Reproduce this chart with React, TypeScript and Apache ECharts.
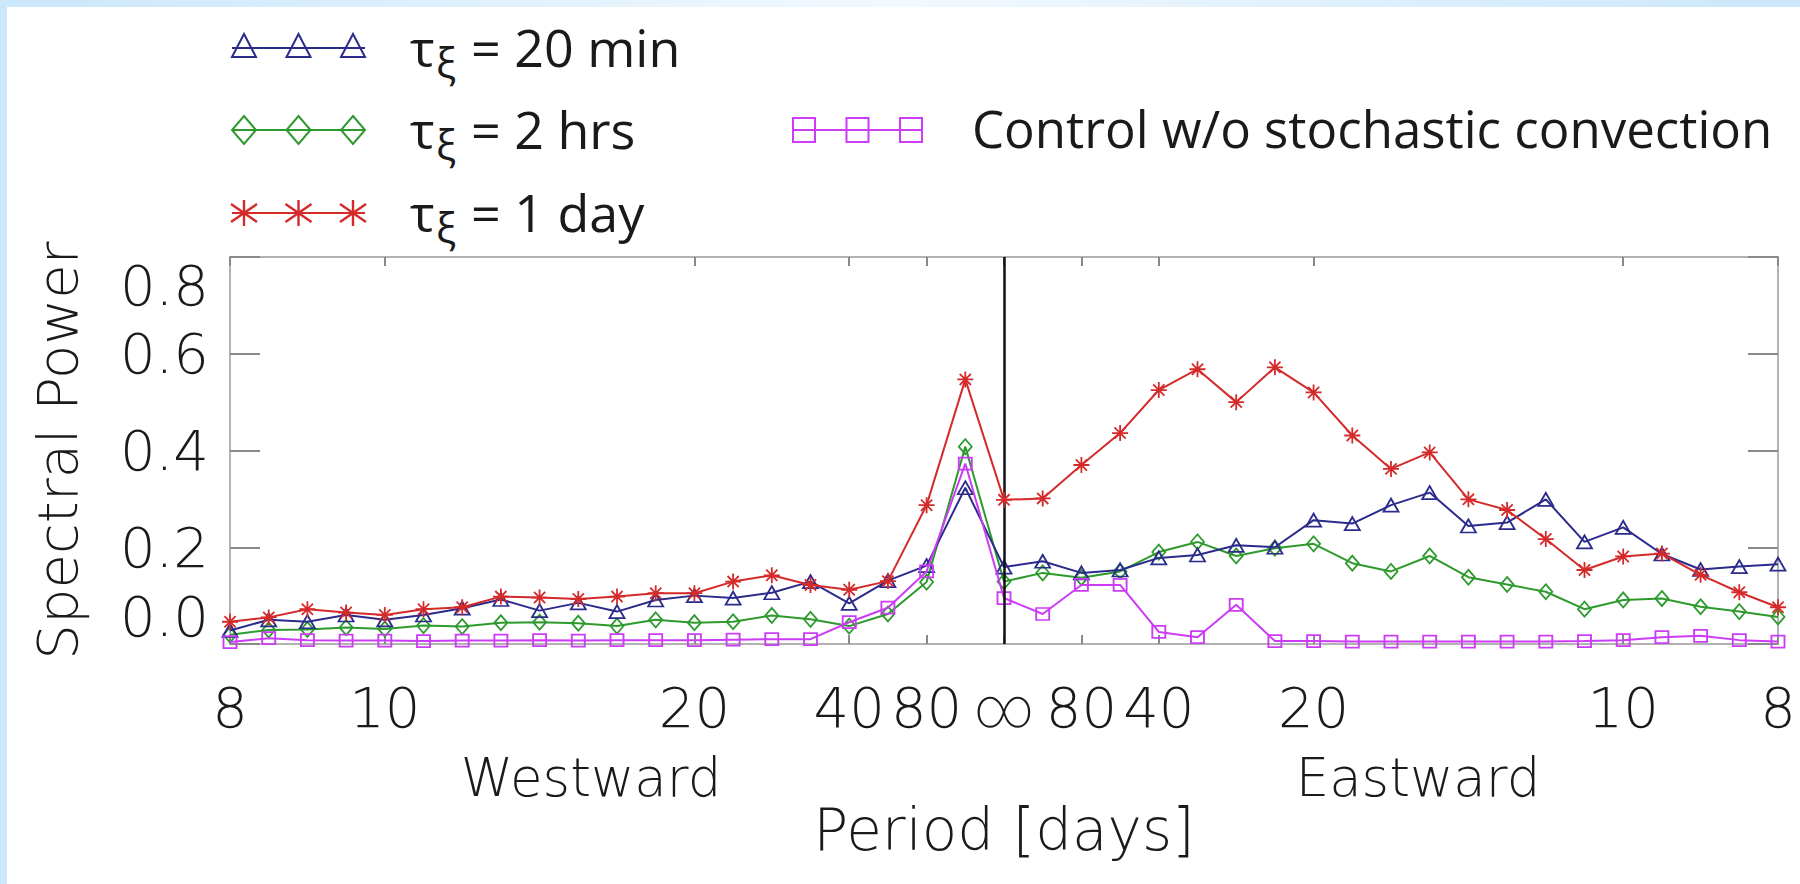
import { useEffect, useRef } from 'react';
import * as echarts from 'echarts';

// Wavenumber harmonics of a 160-day record; frequency (cycles/day) = harmonic / RECORD_DAYS.
// Negative = westward propagation, positive = eastward.
const RECORD_DAYS = 160;
const harmonics = [
  -20, -19, -18, -17, -16, -15, -14, -13, -12, -11, -10, -9, -8, -7, -6, -5, -4, -3, -2, -1,
  0, 1, 2, 3, 4, 5, 6, 7, 8, 9, 10, 11, 12, 13, 14, 15, 16, 17, 18, 19, 20,
];

// Spectral power per run
const tau20min = [
  0.028, 0.05, 0.046, 0.06, 0.05, 0.06, 0.074, 0.092, 0.069, 0.085, 0.067, 0.091, 0.1, 0.095, 0.106,
  0.129, 0.084, 0.131, 0.162, 0.323, 0.159, 0.171, 0.147, 0.153, 0.178, 0.184, 0.204, 0.2, 0.256,
  0.249, 0.287, 0.313, 0.244, 0.251, 0.299, 0.211, 0.241, 0.186, 0.154, 0.16, 0.165,
];
const tau2hrs = [
  0.019, 0.029, 0.03, 0.034, 0.031, 0.038, 0.036, 0.044, 0.045, 0.043, 0.037, 0.05, 0.044, 0.046,
  0.059, 0.051, 0.037, 0.062, 0.128, 0.408, 0.129, 0.147, 0.137, 0.15, 0.19, 0.211, 0.182, 0.198,
  0.207, 0.167, 0.15, 0.182, 0.138, 0.123, 0.108, 0.072, 0.091, 0.094, 0.077, 0.067, 0.056,
];
const tau1day = [
  0.046, 0.055, 0.072, 0.065, 0.06, 0.072, 0.076, 0.098, 0.096, 0.093, 0.098, 0.105, 0.105, 0.129,
  0.142, 0.122, 0.112, 0.13, 0.287, 0.547, 0.298, 0.301, 0.37, 0.436, 0.525, 0.568, 0.5, 0.572, 0.52,
  0.431, 0.362, 0.396, 0.299, 0.277, 0.217, 0.153, 0.181, 0.187, 0.143, 0.107, 0.076,
];
const control = [
  0.004, 0.012, 0.008, 0.007, 0.007, 0.006, 0.007, 0.007, 0.008, 0.007, 0.008, 0.008, 0.008, 0.009,
  0.01, 0.01, 0.045, 0.075, 0.15, 0.373, 0.095, 0.062, 0.122, 0.122, 0.025, 0.014, 0.081, 0.006,
  0.006, 0.005, 0.005, 0.005, 0.005, 0.005, 0.005, 0.006, 0.008, 0.014, 0.017, 0.008, 0.005,
];

// Period tick labels (days) on each side of zero frequency
const periodTickDays = [8, 10, 20, 40, 80];
const yTicks = [0, 0.2, 0.4, 0.6, 0.8];

const legendRows = [
  { label: '= 20 min', color: '#2b2b8c', marker: 'triangle' },
  { label: '= 2 hrs', color: '#2e9a2e', marker: 'diamond' },
  { label: '= 1 day', color: '#d42a2a', marker: 'asterisk' },
];
const controlLabel = 'Control w/o stochastic convection';
const controlColor = '#cc3cf5';

const AXIS_FONT = '"DejaVu Sans", Roboto, sans-serif';
const AXIS_WEIGHT = 200;
const LEGEND_FONT = '"Open Sans"';
const TEXT_COLOR = '#1a1a1a';

const SYM_TRIANGLE = 'path://M10,0L20,17.3L0,17.3Z';
const SYM_DIAMOND = 'path://M10,0L20,11L10,22L0,11Z';
const SYM_SQUARE = 'path://M0,0L20,0L20,20L0,20Z';
const SYM_ASTERISK = 'path://M10,0L10,20M0,10L20,10M3,3L17,17M3,17L17,3';

function markerShapes(kind: string, cx: number, cy: number, color: string): any[] {
  const style = { fill: 'none', stroke: color, lineWidth: 2 };
  if (kind === 'triangle') {
    return [{ type: 'polygon', shape: { points: [[cx, cy - 14], [cx + 12, cy + 9], [cx - 12, cy + 9]] }, style }];
  }
  if (kind === 'diamond') {
    return [{ type: 'polygon', shape: { points: [[cx, cy - 14], [cx + 12, cy], [cx, cy + 14], [cx - 12, cy]] }, style }];
  }
  if (kind === 'square') {
    return [{ type: 'rect', shape: { x: cx - 11, y: cy - 12, width: 22, height: 24 }, style }];
  }
  const s = { stroke: color, lineWidth: 2.4 };
  return [
    { type: 'line', shape: { x1: cx, y1: cy - 13, x2: cx, y2: cy + 13 }, style: s },
    { type: 'line', shape: { x1: cx - 13, y1: cy - 9, x2: cx + 13, y2: cy + 9 }, style: s },
    { type: 'line', shape: { x1: cx - 13, y1: cy + 9, x2: cx + 13, y2: cy - 9 }, style: s },
  ];
}

function legendSample(x0: number, x1: number, cy: number, kind: string, color: string): any[] {
  const out: any[] = [
    { type: 'line', shape: { x1: x0, y1: cy, x2: x1, y2: cy }, style: { stroke: color, lineWidth: 2 } },
  ];
  const step = (x1 - x0 - 24) / 2;
  for (let i = 0; i < 3; i++) out.push(...markerShapes(kind, x0 + 12 + i * step, cy, color));
  return out;
}

function buildGraphics(): any[] {
  const g: any[] = [];
  // light blue page edges
  g.push({
    type: 'rect',
    shape: { x: 0, y: 0, width: 1800, height: 7 },
    style: {
      fill: new echarts.graphic.LinearGradient(0, 0, 1, 0, [
        { offset: 0, color: '#cbe7fb' },
        { offset: 0.5, color: '#f2f9ff' },
        { offset: 1, color: '#cbe7fb' },
      ]),
    },
    silent: true,
  });
  g.push({ type: 'rect', shape: { x: 0, y: 0, width: 7, height: 884 }, style: { fill: '#cbe7fb' }, silent: true });

  const rowY = [46, 128, 211];
  legendRows.forEach((row, i) => {
    const cy = rowY[i];
    g.push(...legendSample(232, 365, cy + 2, row.marker, row.color));
    g.push({ type: 'text', x: 410, y: cy, style: { text: 'τ', fontSize: 52, fontFamily: LEGEND_FONT, fill: TEXT_COLOR, align: 'left', verticalAlign: 'middle' } });
    g.push({ type: 'text', x: 436, y: cy + 15, style: { text: 'ξ', fontSize: 42, fontFamily: LEGEND_FONT, fill: TEXT_COLOR, align: 'left', verticalAlign: 'middle' } });
    g.push({ type: 'text', x: 471, y: cy, style: { text: row.label, fontSize: 52, fontFamily: LEGEND_FONT, fill: TEXT_COLOR, align: 'left', verticalAlign: 'middle' } });
  });
  g.push(...legendSample(792, 923, 130, 'square', controlColor));
  g.push({ type: 'text', x: 972, y: 128, style: { text: controlLabel, fontSize: 51, fontFamily: LEGEND_FONT, fill: TEXT_COLOR, align: 'left', verticalAlign: 'middle' } });

  // propagation direction captions
  const capStyle = { fontSize: 53, fontFamily: AXIS_FONT, fontWeight: AXIS_WEIGHT, fill: TEXT_COLOR, align: 'center', verticalAlign: 'middle' };
  g.push({ type: 'text', x: 591, y: 777, style: { ...capStyle, text: 'Westward' } });
  g.push({ type: 'text', x: 1418, y: 777, style: { ...capStyle, text: 'Eastward' } });
  return g;
}

export default function App() {
  const ref = useRef<HTMLDivElement>(null);

  useEffect(() => {
    if (!ref.current) return;
    const chart = echarts.init(ref.current, undefined, { renderer: 'svg' });

    const freqTicks = [
      ...periodTickDays.map((p) => -1 / p),
      0,
      ...[...periodTickDays].reverse().map((p) => 1 / p),
    ];
    const fMax = 1 / periodTickDays[0];
    const freqs = harmonics.map((h) => h / RECORD_DAYS);
    const pairs = (vals: number[]) => freqs.map((f, i) => [f, vals[i]]);

    const frameColor = '#b2b2b2';
    const tickColor = '#8a8a8a';
    const axisText = { fontSize: 56, fontFamily: AXIS_FONT, fontWeight: AXIS_WEIGHT, color: TEXT_COLOR };

    const xAxisBase = {
      type: 'value',
      min: -fMax,
      max: fMax,
      splitLine: { show: false },
      axisLine: { show: true, onZero: false, lineStyle: { color: frameColor, width: 2 } },
      axisTick: { show: true, inside: true, length: 9, customValues: freqTicks, lineStyle: { color: tickColor, width: 2 } },
    };
    const yAxisBase = {
      type: 'value',
      min: yTicks[0],
      max: yTicks[yTicks.length - 1],
      interval: 0.2,
      splitLine: { show: false },
      axisLine: { show: true, onZero: false, lineStyle: { color: frameColor, width: 2 } },
      axisTick: { show: true, inside: true, length: 30, lineStyle: { color: tickColor, width: 2 } },
    };

    const lineSeries = (name: string, vals: number[], color: string, symbol: string, size: number[], z: number) => ({
      name,
      type: 'line',
      data: pairs(vals),
      symbol,
      symbolSize: size,
      showSymbol: true,
      z,
      lineStyle: { color, width: 2 },
      itemStyle: { color: 'rgba(0,0,0,0)', borderColor: color, borderWidth: 1.8 },
      emphasis: { disabled: true },
    });

    chart.setOption({
      animation: false,
      backgroundColor: '#ffffff',
      textStyle: { fontFamily: AXIS_FONT },
      grid: { left: 230, right: 22, top: 257, bottom: 240 },
      xAxis: [
        {
          ...xAxisBase,
          position: 'bottom',
          axisLabel: {
            show: true,
            customValues: freqTicks,
            margin: 63,
            verticalAlign: 'middle',
            ...axisText,
            formatter: (v: number) => (Math.abs(v) < 1e-9 ? '∞' : String(Math.round(1 / Math.abs(v)))),
          },
          name: 'Period [days]',
          nameLocation: 'middle',
          nameGap: 186,
          nameTextStyle: { ...axisText, fontSize: 58, verticalAlign: 'middle' },
        },
        { ...xAxisBase, position: 'top', axisLabel: { show: false } },
      ],
      yAxis: [
        {
          ...yAxisBase,
          position: 'left',
          axisLabel: {
            show: true,
            margin: 21,
            ...axisText,
            verticalAlignMinLabel: 'bottom',
            verticalAlignMaxLabel: 'top',
            formatter: (v: number) => v.toFixed(1),
          },
          name: 'Spectral Power',
          nameLocation: 'middle',
          nameRotate: 90,
          nameGap: 173,
          nameTextStyle: { ...axisText, fontSize: 56, verticalAlign: 'middle' },
        },
        { ...yAxisBase, position: 'right', axisLabel: { show: false } },
      ],
      series: [
        {
          ...lineSeries('τξ = 2 hrs', tau2hrs, legendRows[1].color, SYM_DIAMOND, [13, 15], 2),
          markLine: {
            silent: true,
            symbol: ['none', 'none'],
            label: { show: false },
            lineStyle: { color: '#111111', width: 2.5, type: 'solid' },
            data: [{ xAxis: 0 }],
          },
        },
        lineSeries('τξ = 20 min', tau20min, legendRows[0].color, SYM_TRIANGLE, [15, 13], 3),
        lineSeries(controlLabel, control, controlColor, SYM_SQUARE, [13, 12], 4),
        lineSeries('τξ = 1 day', tau1day, legendRows[2].color, SYM_ASTERISK, [16, 16], 5),
      ],
      graphic: buildGraphics(),
    });

    return () => chart.dispose();
  }, []);

  return (
    <div
      ref={ref}
      style={{ position: 'absolute', left: 0, top: 0, width: 1800, height: 884, background: '#ffffff' }}
    />
  );
}
